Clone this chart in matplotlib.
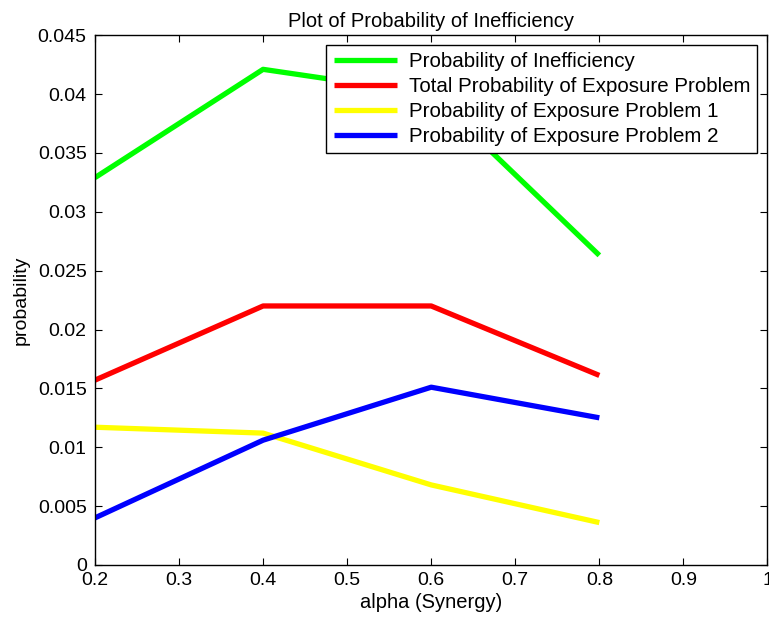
import matplotlib
matplotlib.use('Agg')
import matplotlib.pyplot as plt

plt.rcParams['font.family'] = ['Liberation Sans', 'DejaVu Sans']

# data
alpha = [0.2, 0.4, 0.6, 0.8]
p_ineff = [0.0329, 0.0421, 0.0400, 0.0263]
p_total = [0.0157, 0.0220, 0.0220, 0.0161]
p_exp1 = [0.0117, 0.0112, 0.0068, 0.0036]
p_exp2 = [0.0040, 0.0106, 0.0151, 0.0125]

labels = ['Probability of Inefficiency',
          'Total Probability of Exposure Problem',
          'Probability of Exposure Problem 1',
          'Probability of Exposure Problem 2']
colors = ['#00ff00', '#ff0000', '#ffff00', '#0000ff']

fig = plt.figure(figsize=(7.69, 6.24), dpi=100)
ax = fig.add_axes([0.1235, 0.0946, 0.8745, 0.849])

for y, c, lab in zip([p_ineff, p_total, p_exp1, p_exp2], colors, labels):
    ax.plot(alpha, y, color=c, linewidth=3.8, label=lab, solid_capstyle='butt')

ax.set_xlim(0.2, 1.0)
ax.set_ylim(0, 0.045)
ax.set_xticks([0.2, 0.3, 0.4, 0.5, 0.6, 0.7, 0.8, 0.9, 1.0])
ax.set_xticklabels(['0.2', '0.3', '0.4', '0.5', '0.6', '0.7', '0.8', '0.9', '1'])
ax.set_yticks([0, 0.005, 0.01, 0.015, 0.02, 0.025, 0.03, 0.035, 0.04, 0.045])
ax.set_yticklabels(['0', '0.005', '0.01', '0.015', '0.02', '0.025', '0.03',
                    '0.035', '0.04', '0.045'])
ax.tick_params(direction='in', top=True, right=True, labelsize=14, length=5)
ax.tick_params(axis='y', pad=6)
ax.tick_params(axis='x', pad=5)
for s in ax.spines.values():
    s.set_linewidth(1.0)

ax.set_xlabel('alpha (Synergy)', fontsize=14.5, labelpad=3)
ax.set_ylabel('probability', fontsize=14, labelpad=6)
ax.set_title('Plot of Probability of Inefficiency', fontsize=14.5, pad=6)

leg = ax.legend(loc='upper right', bbox_to_anchor=(0.985, 0.981), fontsize=14.8,
                fancybox=False, framealpha=1, edgecolor='black',
                handlelength=3.1, handletextpad=0.55, borderpad=0.35,
                labelspacing=0.28, borderaxespad=0)
leg.get_frame().set_linewidth(1.0)

fig.savefig('out.png', dpi=100)
